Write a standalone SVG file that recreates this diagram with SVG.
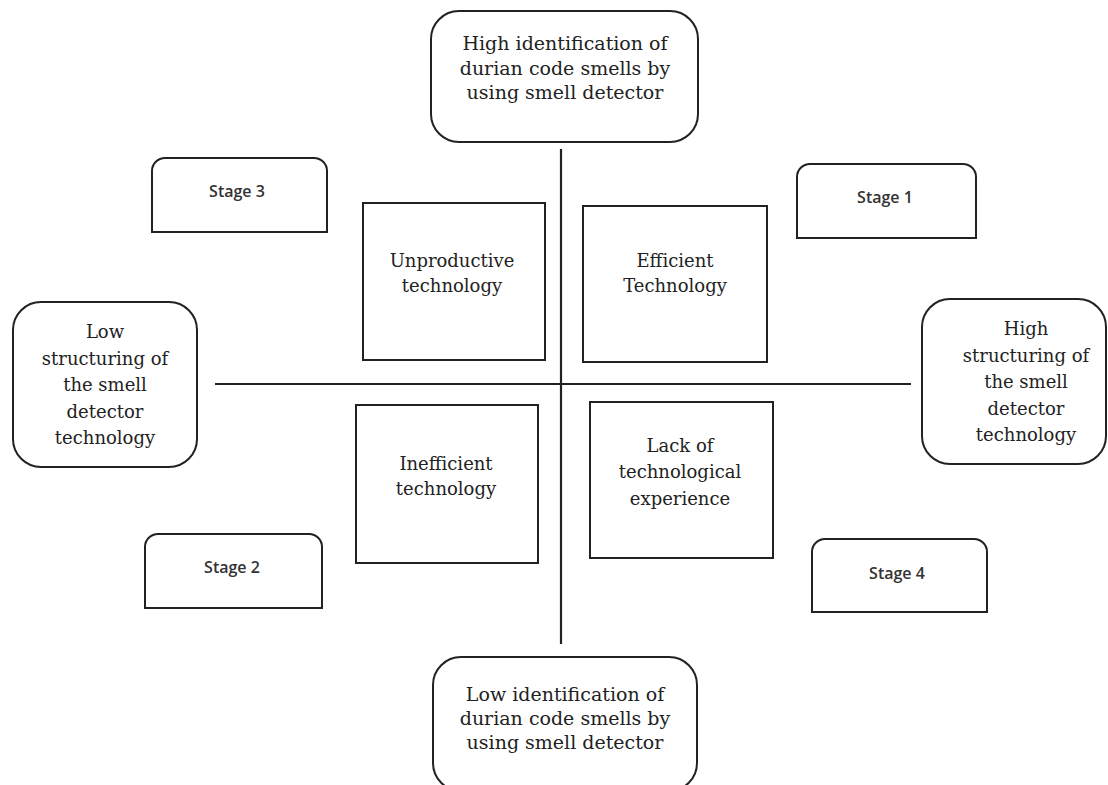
<svg xmlns="http://www.w3.org/2000/svg" width="1108" height="785" viewBox="0 0 1108 785">
<style>
.b{fill:#fff;stroke:#222;stroke-width:2}
.ln{stroke:#222;stroke-width:2.2;fill:none}
.t{font-family:"DejaVu Serif","Liberation Serif",serif;font-size:18px;fill:#222;text-anchor:middle}
.tb{font-size:19px}
.s{font-family:"Open Sans","Noto Sans",sans-serif;font-size:16px;font-weight:600;fill:#333;text-anchor:middle}
</style>
<rect width="1108" height="785" fill="#fff"/>
<g id="connectors">
<line class="ln" x1="561" y1="149" x2="561" y2="644"/>
<line class="ln" x1="215" y1="384" x2="911" y2="384"/>
</g>
<g id="top">
<rect class="b" x="431" y="11" width="267" height="131" rx="28"/>
<text class="t tb" x="565" y="50">High identification of</text>
<text class="t tb" x="565" y="75">durian code smells by</text>
<text class="t tb" x="565" y="99">using smell detector</text>
</g>
<g id="bottom">
<rect class="b" x="433" y="657" width="264" height="134" rx="28"/>
<text class="t tb" x="565" y="701">Low identification of</text>
<text class="t tb" x="565" y="725">durian code smells by</text>
<text class="t tb" x="565" y="749">using smell detector</text>
</g>
<g id="left">
<rect class="b" x="13" y="302" width="184" height="165" rx="28"/>
<text class="t" x="105" y="338">Low</text>
<text class="t" x="105" y="364.5">structuring of</text>
<text class="t" x="105" y="391">the smell</text>
<text class="t" x="105" y="417.5">detector</text>
<text class="t" x="105" y="444">technology</text>
</g>
<g id="right">
<rect class="b" x="922" y="299" width="184" height="165" rx="28"/>
<text class="t" x="1026" y="335">High</text>
<text class="t" x="1026" y="361.5">structuring of</text>
<text class="t" x="1026" y="388">the smell</text>
<text class="t" x="1026" y="414.5">detector</text>
<text class="t" x="1026" y="441">technology</text>
</g>
<g id="unproductive">
<rect class="b" x="363" y="203" width="182" height="157"/>
<text class="t" x="452" y="267">Unproductive</text>
<text class="t" x="452" y="292">technology</text>
</g>
<g id="efficient">
<rect class="b" x="583" y="206" width="184" height="156"/>
<text class="t" x="675" y="267">Efficient</text>
<text class="t" x="675" y="292">Technology</text>
</g>
<g id="inefficient">
<rect class="b" x="356" y="405" width="182" height="158"/>
<text class="t" x="446" y="470">Inefficient</text>
<text class="t" x="446" y="495">technology</text>
</g>
<g id="lack">
<rect class="b" x="590" y="402" width="183" height="156"/>
<text class="t" x="680" y="452">Lack of</text>
<text class="t" x="680" y="478">technological</text>
<text class="t" x="680" y="505">experience</text>
</g>
<g id="stage3">
<path class="b" d="M152,232 V171 A13,13 0 0 1 165,158 H314 A13,13 0 0 1 327,171 V232 Z"/>
<text class="s" x="237" y="197">Stage 3</text>
</g>
<g id="stage1">
<path class="b" d="M797,238 V177 A13,13 0 0 1 810,164 H963 A13,13 0 0 1 976,177 V238 Z"/>
<text class="s" x="885" y="203">Stage 1</text>
</g>
<g id="stage2">
<path class="b" d="M145,608 V547 A13,13 0 0 1 158,534 H309 A13,13 0 0 1 322,547 V608 Z"/>
<text class="s" x="232" y="573">Stage 2</text>
</g>
<g id="stage4">
<path class="b" d="M812,612 V552 A13,13 0 0 1 825,539 H974 A13,13 0 0 1 987,552 V612 Z"/>
<text class="s" x="897" y="579">Stage 4</text>
</g>
</svg>
